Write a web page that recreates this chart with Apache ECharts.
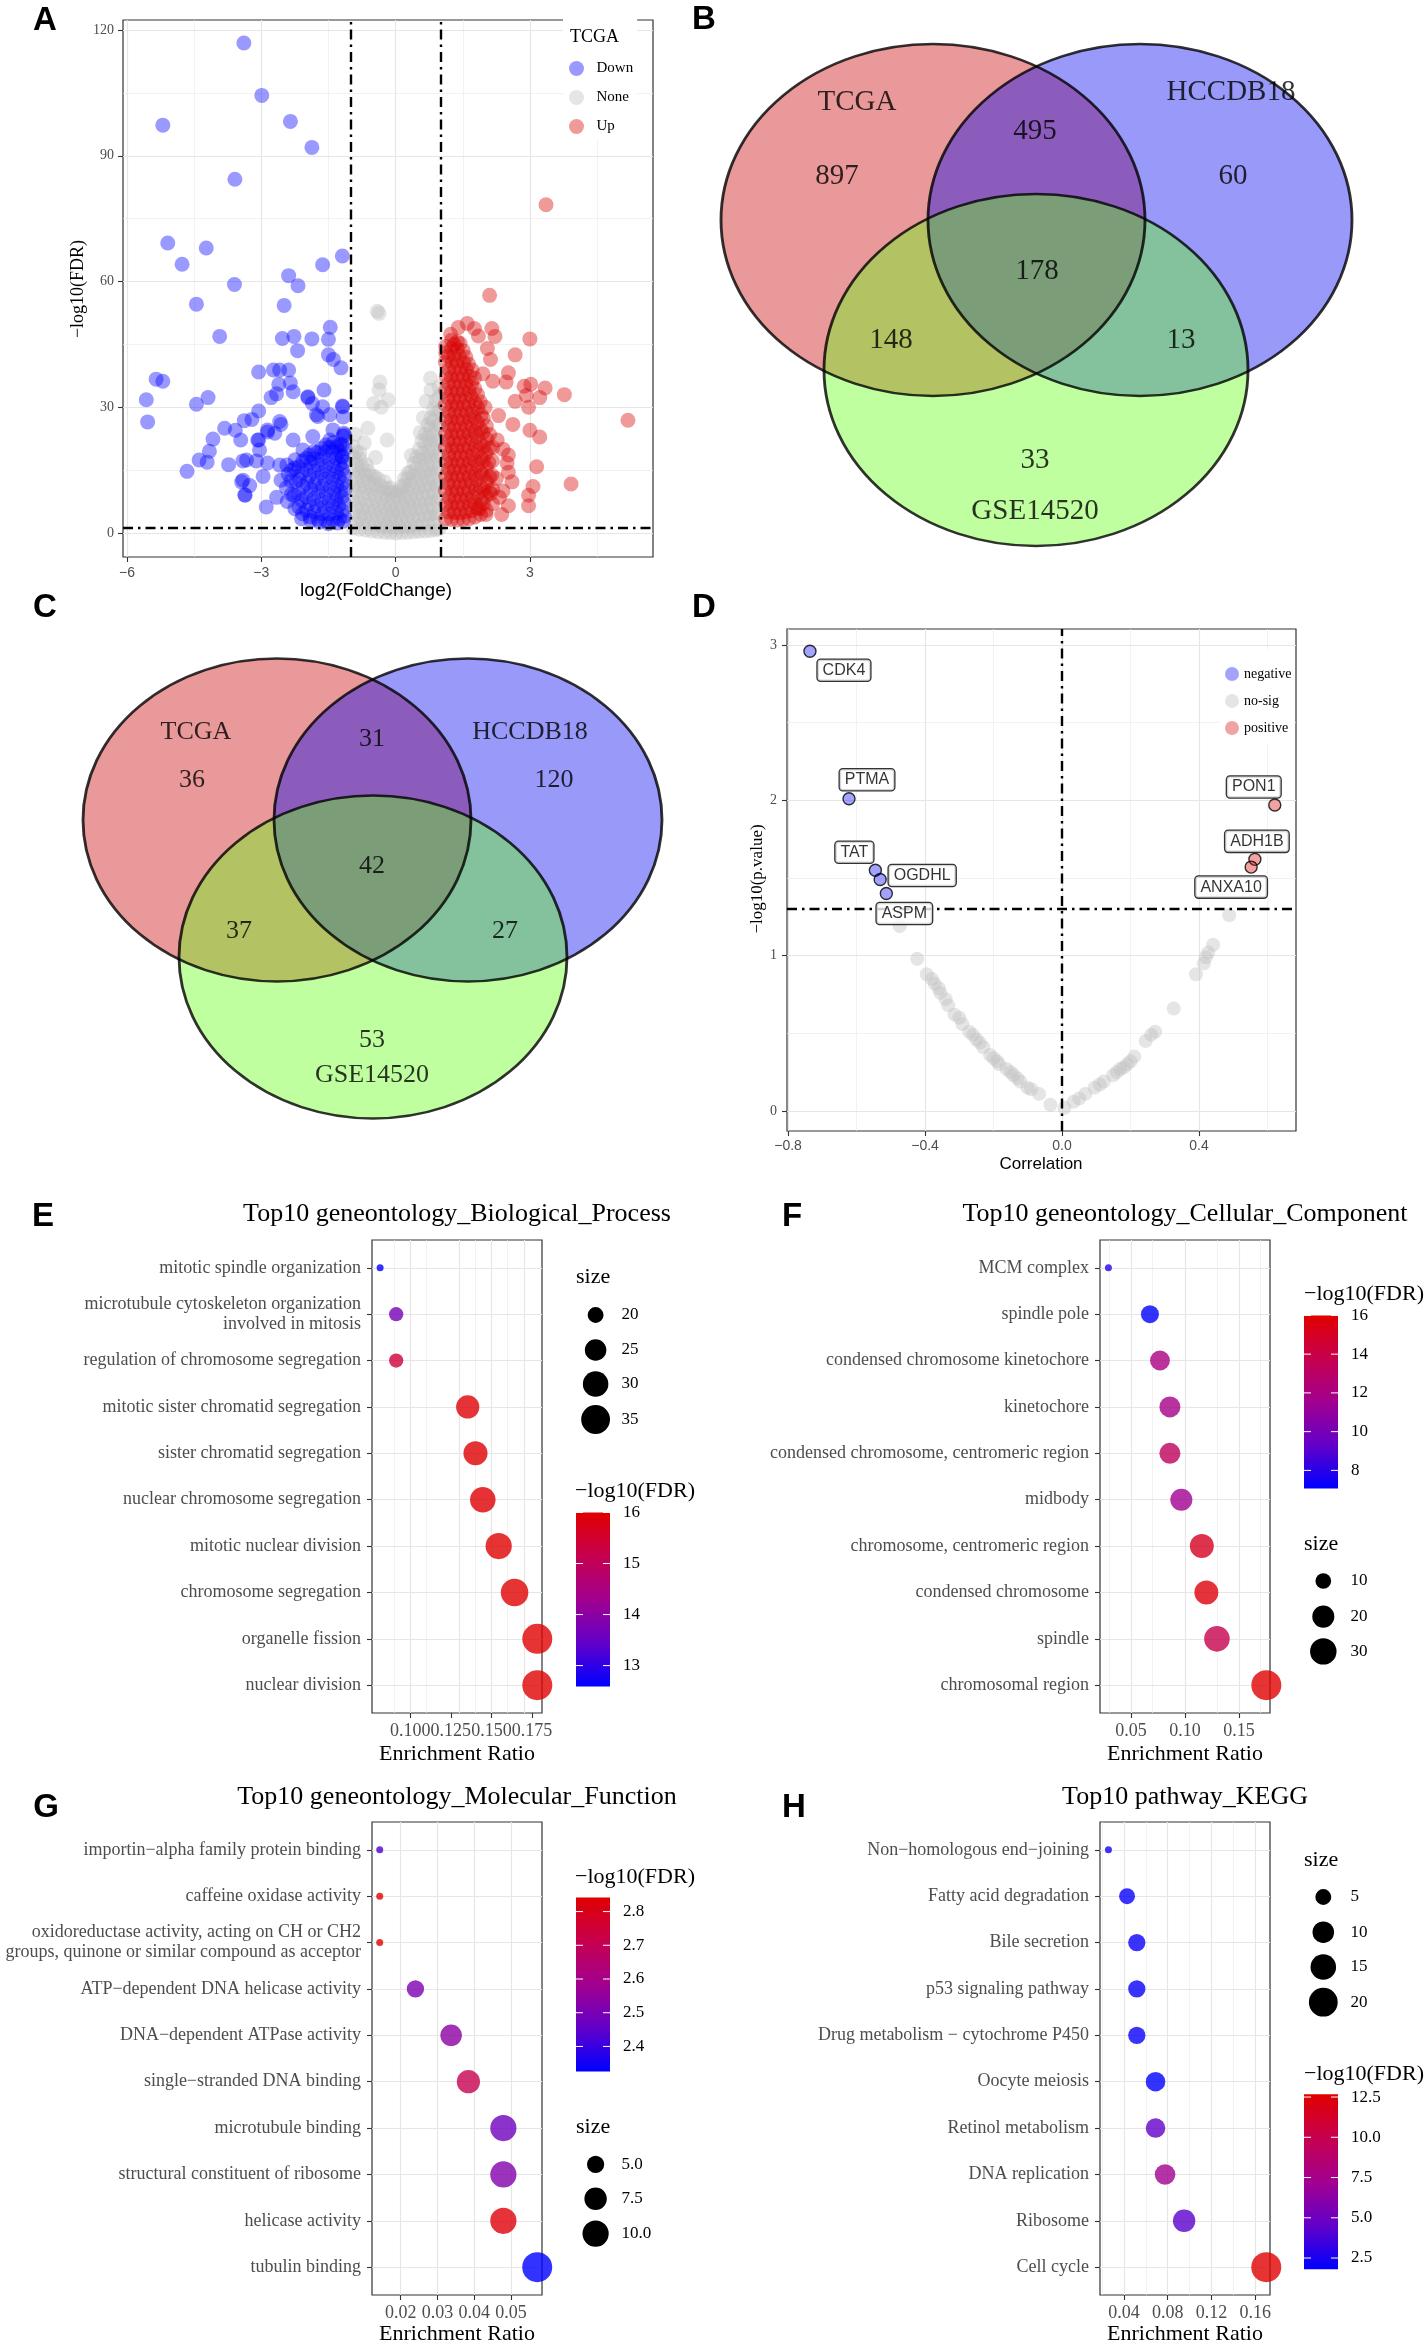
<!DOCTYPE html>
<html>
<head>
<meta charset="utf-8">
<script src="https://cdn.jsdelivr.net/npm/echarts@6/dist/echarts.min.js"></script>
<style>
html,body{margin:0;padding:0;background:#fff;}
#chart{width:1428px;height:2347px;}
</style>
</head>
<body>
<div id="chart"></div>
<script>
// ===================== DATA =====================
// Panel A: volcano (log2FC, -log10 FDR)
const volcanoDown = [
[-3.39,116.9],[-2.99,104.4],[-5.20,97.3],[-2.35,98.2],[-1.87,92.0],[-3.59,84.4],[-5.09,69.2],[-4.23,68.0],[-4.77,64.1],[-1.19,66.1],
[-1.63,64.0],[-2.39,61.4],[-3.60,59.3],[-2.18,59.0],[-4.45,54.6],[-2.49,54.3],[-3.93,46.9],[-2.53,46.4],[-2.27,46.9],[-1.87,46.3],
[-1.46,49.1],[-1.50,46.2],[-2.19,43.5],[-1.50,42.5],[-1.39,41.4],[-1.22,39.4],[-3.06,38.4],[-2.73,38.9],[-2.59,38.9],[-2.39,38.9],
[-5.35,36.7],[-5.20,36.2],[-5.57,31.8],[-5.54,26.5],[-4.45,30.7],[-4.19,32.3],[-2.61,35.5],[-2.35,35.8],[-2.29,33.7],[-2.66,33.2],
[-2.78,32.3],[-1.96,32.3],[-1.86,30.9],[-1.60,34.1],[-1.19,30.3],[-3.06,29.1],[-3.38,26.8],[-3.21,27.1],[-3.82,25.0],[-3.58,24.5],
[-2.56,25.9],[-1.77,28.2],[-1.47,28.2],[-1.17,27.7],[-4.08,22.4],[-3.46,22.2],[-3.06,22.2],[-2.86,24.1],[-4.16,19.5],[-4.39,17.4],
[-4.21,16.9],[-4.66,14.7],[-3.73,16.3],[-3.41,17.2],[-3.11,17.2],[-2.86,16.7],[-2.96,13.5],[-3.41,12.6],[-3.26,11.3],[-3.36,9.0],
[-2.89,6.2],[-2.66,8.5],[-2.56,12.6],[-1.17,23.1],[-1.14,23.4],[-1.19,18.1],[-1.96,32.5],[-1.63,30.1],[-1.18,30.1],[-1.74,27.8],
[-2.59,26.6],[-2.86,24.6],[-3.08,22.2],[-3.33,17.4],[-3.04,19.8],[-3.44,12.2],[-3.37,9.1],[-2.29,22.2],[-2.07,19.8],[-1.85,23.0],
[-1.40,24.6],[-1.16,23.8],[-2.70,23.8],[-2.59,16.2],
[-2.42,7.5],[-2.44,10.8],[-2.40,14.0],[-2.43,16.2],
[-2.25,5.8],[-2.27,9.0],[-2.23,12.3],[-2.26,15.5],[-2.24,17.5],
[-2.08,4.6],[-2.10,7.8],[-2.06,11.1],[-2.09,14.4],[-2.07,17.2],
[-1.91,3.8],[-1.93,7.0],[-1.89,10.3],[-1.92,13.6],[-1.90,16.8],[-1.92,18.6],
[-1.74,3.3],[-1.76,6.5],[-1.72,9.8],[-1.75,13.1],[-1.73,16.3],[-1.75,19.2],
[-1.57,3.0],[-1.59,6.2],[-1.55,9.5],[-1.58,12.8],[-1.56,16.0],[-1.58,19.3],[-1.56,21.0],
[-1.40,3.1],[-1.42,6.3],[-1.38,9.6],[-1.41,12.9],[-1.39,16.1],[-1.41,19.4],[-1.39,21.6],
[-1.25,3.4],[-1.27,6.6],[-1.23,9.9],[-1.26,13.2],[-1.24,16.4],[-1.26,19.6],[-1.24,21.2],
[-1.14,4.0],[-1.15,7.2],[-1.13,10.5],[-1.14,13.8],[-1.15,17.0],[-1.13,20.1],
[-2.33,9.2],[-2.34,12.4],[-2.32,15.0],
[-2.16,6.2],[-2.17,9.4],[-2.15,12.7],[-2.16,15.8],
[-1.99,5.4],[-2.00,8.6],[-1.98,11.9],[-1.99,15.2],[-2.00,17.8],
[-1.82,5.0],[-1.83,8.2],[-1.81,11.5],[-1.82,14.8],[-1.83,17.7],[-1.82,19.5],
[-1.65,4.6],[-1.66,7.8],[-1.64,11.1],[-1.65,14.4],[-1.66,17.6],[-1.65,20.2],
[-1.48,4.5],[-1.49,7.7],[-1.47,11.0],[-1.48,14.3],[-1.49,17.6],[-1.48,20.4],[-1.47,22.2],
[-1.32,4.8],[-1.33,8.0],[-1.31,11.3],[-1.32,14.6],[-1.33,17.9],[-1.32,20.6],
[-1.19,5.3],[-1.20,8.6],[-1.18,11.9],[-1.19,15.2],[-1.20,18.4],[-1.19,21.0],
[-1.50,2.2],[-1.30,2.4],[-1.70,2.6],[-1.90,3.0],[-1.17,2.8],[-2.10,3.4]
];
const volcanoNone = [
[-0.41,52.9],[-0.37,52.4],[-0.35,36.0],[-0.37,34.1],[-0.49,30.9],[-0.17,31.8],[-0.32,30.0],[-0.62,25.0],[-0.19,22.2],[0.78,36.9],
[0.79,34.1],[0.68,31.4],[-0.80,19.1],[-0.70,21.5],[-0.45,18.0],[-0.90,23.5],[0.20,13.0],[0.35,18.5],[0.55,24.0],[0.62,27.5],
[-0.95,1.2],[-0.93,4.5],[-0.96,7.9],[-0.94,11.3],[-0.95,14.7],[-0.93,18.0],[-0.95,20.6],
[-0.81,0.9],[-0.79,4.2],[-0.82,7.6],[-0.80,11.0],[-0.81,14.4],[-0.79,17.6],
[-0.67,0.7],[-0.68,4.0],[-0.66,7.3],[-0.68,10.7],[-0.67,13.9],[-0.66,16.3],
[-0.53,0.5],[-0.54,3.8],[-0.52,7.0],[-0.54,10.4],[-0.53,13.6],
[-0.39,0.3],[-0.40,3.5],[-0.38,6.8],[-0.40,10.1],[-0.39,12.9],
[-0.25,0.2],[-0.26,3.3],[-0.24,6.5],[-0.26,9.7],[-0.25,12.2],
[-0.12,0.1],[-0.13,3.1],[-0.11,6.2],[-0.12,9.4],[-0.12,10.8],
[0.01,0.0],[0.00,3.0],[0.02,6.0],[0.01,9.1],
[0.14,0.1],[0.13,3.2],[0.15,6.4],[0.14,9.6],[0.14,11.2],
[0.27,0.2],[0.26,3.4],[0.28,6.7],[0.27,9.9],[0.27,13.0],[0.28,14.3],
[0.40,0.3],[0.39,3.6],[0.41,7.0],[0.40,10.3],[0.40,13.6],[0.41,16.6],
[0.53,0.4],[0.52,3.8],[0.54,7.2],[0.53,10.6],[0.53,14.0],[0.54,17.4],[0.53,20.0],
[0.66,0.5],[0.65,4.0],[0.67,7.5],[0.66,10.9],[0.66,14.3],[0.67,17.7],[0.66,21.1],[0.66,23.6],
[0.78,0.6],[0.77,4.2],[0.79,7.7],[0.78,11.2],[0.78,14.6],[0.79,18.1],[0.78,21.5],[0.78,24.9],[0.79,27.4],
[0.90,0.8],[0.89,4.4],[0.91,7.9],[0.90,11.4],[0.90,14.9],[0.91,18.4],[0.90,21.9],[0.90,25.3],[0.91,28.8],[0.90,31.6],
[0.97,1.0],[0.96,4.7],[0.98,8.3],[0.97,11.8],[0.97,15.3],[0.98,18.8],[0.97,22.2],[0.97,25.7],[0.98,29.1],[0.97,32.5],[0.97,34.8],
[-0.88,2.8],[-0.87,6.2],[-0.89,9.6],[-0.88,13.0],[-0.87,16.3],[-0.88,19.3],
[-0.74,2.5],[-0.75,5.9],[-0.73,9.3],[-0.74,12.6],[-0.75,15.8],
[-0.60,2.2],[-0.61,5.6],[-0.59,9.0],[-0.60,12.2],[-0.61,14.8],
[-0.46,1.9],[-0.47,5.3],[-0.45,8.6],[-0.46,11.7],[-0.47,13.5],
[-0.32,1.7],[-0.33,5.0],[-0.31,8.2],[-0.32,11.2],
[-0.19,1.5],[-0.20,4.7],[-0.18,7.9],[-0.19,10.6],
[-0.06,1.4],[-0.07,4.5],[-0.05,7.6],[-0.06,9.8],
[0.07,1.4],[0.06,4.6],[0.08,7.8],[0.07,10.0],
[0.20,1.5],[0.19,4.8],[0.21,8.1],[0.20,11.3],
[0.33,1.7],[0.32,5.1],[0.34,8.4],[0.33,11.6],[0.34,14.6],
[0.46,1.9],[0.45,5.4],[0.47,8.8],[0.46,12.1],[0.46,15.3],[0.47,18.2],
[0.59,2.1],[0.58,5.6],[0.60,9.1],[0.59,12.5],[0.59,15.8],[0.60,19.0],[0.59,22.0],
[0.72,2.4],[0.71,5.9],[0.73,9.4],[0.72,12.8],[0.72,16.2],[0.73,19.5],[0.72,22.8],[0.72,25.8],
[0.84,2.6],[0.83,6.1],[0.85,9.6],[0.84,13.1],[0.84,16.5],[0.85,19.9],[0.84,23.3],[0.84,26.7],[0.85,29.6]
];
const volcanoUp = [
[3.36,78.3],[2.10,56.7],[1.60,50.0],[1.76,48.8],[2.15,48.8],[2.22,46.9],[3.00,46.3],[1.23,47.4],[2.67,42.5],[2.12,41.4],
[2.17,36.2],[2.52,38.2],[2.47,36.0],[2.87,35.0],[3.02,35.5],[3.34,34.6],[3.77,33.0],[2.92,32.8],[3.22,32.3],[2.67,31.4],
[2.97,30.0],[5.19,26.9],[3.00,24.5],[3.22,22.9],[2.62,25.9],[2.52,18.6],[2.27,22.2],[3.15,15.8],[2.49,16.7],[2.52,14.5],
[2.60,12.2],[3.92,11.7],[3.07,11.1],[2.97,9.0],[2.97,6.5],[2.52,6.5],[2.37,4.4],[2.02,4.4],[2.12,9.4],[2.32,8.5],
[1.87,5.8],[2.00,30.0],[2.30,28.0],[1.95,38.0],[2.05,44.0],[1.85,47.0],[1.40,49.0],[1.12,44.5],[2.40,20.0],[2.25,13.0],[2.40,10.0],
[1.12,3.4],[1.13,6.8],[1.11,10.2],[1.12,13.6],[1.13,17.0],[1.11,20.4],[1.12,23.8],[1.13,27.2],[1.11,30.6],[1.12,34.0],[1.13,37.4],[1.11,40.8],[1.12,43.0],
[1.25,3.2],[1.24,6.6],[1.26,10.0],[1.25,13.4],[1.24,16.8],[1.26,20.2],[1.25,23.6],[1.24,27.0],[1.26,30.4],[1.25,33.8],[1.24,37.2],[1.26,40.6],[1.25,44.0],[1.25,46.0],
[1.38,3.1],[1.39,6.5],[1.37,9.9],[1.38,13.3],[1.39,16.7],[1.37,20.1],[1.38,23.5],[1.39,26.9],[1.37,30.3],[1.38,33.7],[1.39,37.1],[1.37,40.5],[1.38,43.9],[1.38,45.6],
[1.51,3.2],[1.50,6.6],[1.52,10.0],[1.51,13.4],[1.50,16.8],[1.52,20.2],[1.51,23.6],[1.50,27.0],[1.52,30.4],[1.51,33.8],[1.50,37.2],[1.52,40.6],[1.51,43.5],
[1.64,3.4],[1.65,6.8],[1.63,10.2],[1.64,13.6],[1.65,17.0],[1.63,20.4],[1.64,23.8],[1.65,27.2],[1.63,30.6],[1.64,34.0],[1.65,37.4],[1.63,40.3],
[1.77,3.8],[1.76,7.2],[1.78,10.6],[1.77,14.0],[1.76,17.4],[1.78,20.8],[1.77,24.2],[1.76,27.6],[1.78,31.0],[1.77,34.4],[1.76,37.0],
[1.90,4.4],[1.91,7.8],[1.89,11.2],[1.90,14.6],[1.91,18.0],[1.89,21.4],[1.90,24.8],[1.91,28.2],[1.89,31.3],
[2.03,5.4],[2.02,8.8],[2.04,12.2],[2.03,15.6],[2.02,19.0],[2.04,22.4],[2.03,25.5],
[2.16,7.0],[2.17,10.4],[2.15,13.8],[2.16,17.2],[2.17,20.4],
[1.18,5.0],[1.19,8.4],[1.17,11.8],[1.18,15.2],[1.19,18.6],[1.17,22.0],[1.18,25.4],[1.19,28.8],[1.17,32.2],[1.18,35.6],[1.19,39.0],[1.18,42.2],
[1.31,4.9],[1.32,8.3],[1.30,11.7],[1.31,15.1],[1.32,18.5],[1.30,21.9],[1.31,25.3],[1.32,28.7],[1.30,32.1],[1.31,35.5],[1.32,38.9],[1.30,42.3],[1.31,45.0],
[1.44,4.8],[1.45,8.2],[1.43,11.6],[1.44,15.0],[1.45,18.4],[1.43,21.8],[1.44,25.2],[1.45,28.6],[1.43,32.0],[1.44,35.4],[1.45,38.8],[1.43,42.2],[1.44,45.2],
[1.57,5.0],[1.58,8.4],[1.56,11.8],[1.57,15.2],[1.58,18.6],[1.56,22.0],[1.57,25.4],[1.58,28.8],[1.56,32.2],[1.57,35.6],[1.58,39.0],[1.57,42.0],
[1.70,5.3],[1.71,8.7],[1.69,12.1],[1.70,15.5],[1.71,18.9],[1.69,22.3],[1.70,25.7],[1.71,29.1],[1.69,32.5],[1.70,35.8],[1.71,38.9],
[1.83,6.0],[1.84,9.4],[1.82,12.8],[1.83,16.2],[1.84,19.6],[1.82,23.0],[1.83,26.4],[1.84,29.8],[1.83,33.0],
[1.96,7.0],[1.97,10.4],[1.95,13.8],[1.96,17.2],[1.97,20.6],[1.95,24.0],[1.96,27.4],
[2.09,10.0],[2.10,13.4],[2.08,16.8],[2.09,20.2],[2.10,23.5]
];
const aXTicks = [-6, -3, 0, 3];
const aYTicks = [0, 30, 60, 90, 120];
const aXMinor = [-4.5, -1.5, 1.5, 4.5];
const aYMinor = [15, 45, 75, 105];
const aFcCut = [-1, 1];
const aFdrCut = [1.3];

// Panel B / C: Venn counts [TCGA only, HCCDB18 only, GSE14520 only, T&H, T&G, H&G, all]
const vennSets = ['TCGA', 'HCCDB18', 'GSE14520'];
const vennBCounts = [897, 60, 33, 495, 148, 13, 178];
const vennCCounts = [36, 120, 53, 31, 37, 27, 42];

// Panel D: correlation volcano
const negGenes = ['CDK4', 'PTMA', 'TAT', 'OGDHL', 'ASPM'];
const negCor = [-0.736, -0.622, -0.545, -0.531, -0.513];
const negLogP = [2.96, 2.01, 1.55, 1.49, 1.40];
const posGenes = ['PON1', 'ADH1B', 'ANXA10'];
const posCor = [0.621, 0.563, 0.552];
const posLogP = [1.97, 1.62, 1.57];
const noSigPoints = [
[-0.474,1.19],[-0.423,0.98],[-0.395,0.88],[-0.38,0.85],[-0.372,0.82],[-0.36,0.79],[-0.355,0.76],[-0.34,0.72],[-0.332,0.68],[-0.314,0.62],
[-0.30,0.60],[-0.291,0.56],[-0.271,0.51],[-0.26,0.49],[-0.250,0.46],[-0.24,0.44],[-0.230,0.41],[-0.210,0.36],[-0.20,0.34],[-0.19,0.32],
[-0.183,0.30],[-0.162,0.27],[-0.15,0.25],[-0.142,0.23],[-0.13,0.21],[-0.122,0.19],[-0.101,0.15],[-0.09,0.14],[-0.067,0.11],[-0.034,0.04],
[0.007,0.02],[0.034,0.06],[0.05,0.08],[0.068,0.11],[0.095,0.15],[0.11,0.17],[0.122,0.19],[0.149,0.23],[0.16,0.25],[0.170,0.27],
[0.18,0.28],[0.190,0.30],[0.20,0.32],[0.211,0.35],[0.244,0.45],[0.26,0.49],[0.272,0.51],[0.326,0.66],[0.391,0.88],[0.414,0.95],
[0.42,0.99],[0.427,1.02],[0.441,1.07],[0.488,1.26]
];
const dXTicks = [-0.8, -0.4, 0, 0.4];
const dYTicks = [0, 1, 2, 3];
const dXMinor = [-0.6, -0.2, 0.2, 0.6];
const dYMinor = [0.5, 1.5, 2.5];
const dCorCut = [0];
const dPCut = [1.3];

// Panels E-H: enrichment
const termIndex = [0, 1, 2, 3, 4, 5, 6, 7, 8, 9];
const bpTerms = ['mitotic spindle organization', 'microtubule cytoskeleton organization\ninvolved in mitosis', 'regulation of chromosome segregation', 'mitotic sister chromatid segregation', 'sister chromatid segregation', 'nuclear chromosome segregation', 'mitotic nuclear division', 'chromosome segregation', 'organelle fission', 'nuclear division'];
const bpRatio = [0.0814, 0.0913, 0.0913, 0.1354, 0.1402, 0.1447, 0.1545, 0.1643, 0.1783, 0.1783];
const bpSize = [17, 19, 19, 27, 28, 30, 31, 33, 37, 37];
const bpFDR = [12.59, 13.7, 15.4, 15.95, 15.97, 15.98, 15.99, 16.0, 16.0, 16.0];
const bpXTicks = [0.100, 0.125, 0.150, 0.175];
const bpXMinor = [0.0875, 0.1125, 0.1375, 0.1625];
const bpSizeBreaks = [20, 25, 30, 35];
const bpColorBreaks = [13, 14, 15, 16];

const ccTerms = ['MCM complex', 'spindle pole', 'condensed chromosome kinetochore', 'kinetochore', 'condensed chromosome, centromeric region', 'midbody', 'chromosome, centromeric region', 'condensed chromosome', 'spindle', 'chromosomal region'];
const ccRatio = [0.029, 0.0675, 0.0768, 0.086, 0.086, 0.0966, 0.1156, 0.1198, 0.1296, 0.1754];
const ccSize = [5, 13, 16, 18, 18, 20, 24, 24, 28, 40];
const ccFDR = [8.0, 7.07, 12.0, 11.8, 13.3, 11.5, 15.1, 15.7, 13.8, 16.0];
const ccXTicks = [0.05, 0.10, 0.15];
const ccXMinor = [0.025, 0.075, 0.125, 0.175];
const ccSizeBreaks = [10, 20, 30];
const ccColorBreaks = [8, 10, 12, 14, 16];

const mfTerms = ['importin\u2212alpha family protein binding', 'caffeine oxidase activity', 'oxidoreductase activity, acting on CH or CH2\ngroups, quinone or similar compound as acceptor', 'ATP\u2212dependent DNA helicase activity', 'DNA\u2212dependent ATPase activity', 'single\u2212stranded DNA binding', 'microtubule binding', 'structural constituent of ribosome', 'helicase activity', 'tubulin binding'];
const mfRatio = [0.0143, 0.0143, 0.0143, 0.024, 0.0337, 0.0384, 0.0479, 0.0479, 0.0479, 0.0571];
const mfSize = [3, 3, 3, 5, 7, 8, 10, 10, 10, 13];
const mfFDR = [2.43, 2.842, 2.842, 2.51, 2.54, 2.71, 2.48, 2.52, 2.83, 2.326];
const mfXTicks = [0.02, 0.03, 0.04, 0.05];
const mfXMinor = [0.015, 0.025, 0.035, 0.045, 0.055];
const mfSizeBreaks = [5.0, 7.5, 10.0];
const mfColorBreaks = [2.4, 2.5, 2.6, 2.7, 2.8];

const keggTerms = ['Non\u2212homologous end\u2212joining', 'Fatty acid degradation', 'Bile secretion', 'p53 signaling pathway', 'Drug metabolism \u2212 cytochrome P450', 'Oocyte meiosis', 'Retinol metabolism', 'DNA replication', 'Ribosome', 'Cell cycle'];
const keggRatio = [0.0259, 0.0429, 0.0518, 0.0518, 0.0518, 0.0689, 0.0689, 0.0776, 0.095, 0.170];
const keggSize = [2, 5, 6, 6, 6, 8, 8, 9, 11, 22];
const keggFDR = [2.3, 2.0, 2.0, 2.05, 2.0, 1.8, 4.5, 7.2, 4.3, 12.67];
const keggXTicks = [0.04, 0.08, 0.12, 0.16];
const keggXMinor = [0.02, 0.06, 0.10, 0.14];
const keggSizeBreaks = [5, 10, 15, 20];
const keggColorBreaks = [2.5, 5.0, 7.5, 10.0, 12.5];

// ===================== STYLE / LAYOUT =====================
const SERIF = '"Liberation Serif","Times New Roman",Times,serif';
const SANS = '"Liberation Sans",Arial,Helvetica,sans-serif';
const GRAD = ['#0000ff', '#6200c9', '#a2008f', '#c7004e', '#e00000'];
const ELLIPSE = 'path://M0,50A50,50,0,1,1,100,50A50,50,0,1,1,0,50Z';
const VENN_FILL = ['rgba(201,1,1,0.5)', 'rgba(1,1,241,0.5)', 'rgba(97,255,17,0.5)'];
const VENN_LAYOUT = {
  B: {centers: [[933, 220], [1140, 220], [1036, 370]], size: [424, 352], font: 29,
      setPos: [[857, 102], [1231, 92], [1035, 511]],
      countPos: [[837, 176], [1233, 176], [1035, 460], [1035, 131], [891, 340], [1181, 340], [1037, 271]]},
  C: {centers: [[277, 820], [468, 820], [373, 957]], size: [388, 323], font: 26,
      setPos: [[196, 732], [530, 732], [372, 1075]],
      countPos: [[192, 780], [554, 780], [372, 1040], [372, 739], [239, 931], [505, 931], [372, 866]]}
};
const D_LABEL_OFFSET = {CDK4: [34, 19], PTMA: [18, -19], TAT: [-21, -18], OGDHL: [42, -4], ASPM: [18, 20], PON1: [-21, -18], ADH1B: [2, -18], ANXA10: [-20, 20]};

function minusFmt(d) { return v => (v < 0 ? '\u2212' : '') + Math.abs(v).toFixed(d); }
function rangeOf(a) { return [Math.min.apply(null, a), Math.max.apply(null, a)]; }
function sizeScale(lo, hi) { return s => 7 + 23 * Math.sqrt(Math.max(0, Math.min(1, (s - lo) / (hi - lo)))); }

const gridDefs = [
  {left: 0, top: 0, width: 1428, height: 2347, show: false},
  {left: 123, top: 20, width: 530, height: 537},
  {left: 787, top: 629, width: 509, height: 502},
  {left: 372, top: 1240, width: 170, height: 473},
  {left: 1100, top: 1240, width: 170, height: 473},
  {left: 372, top: 1822, width: 170, height: 473},
  {left: 1100, top: 1822, width: 170, height: 473}
];
const grids = gridDefs.map((g, i) => i === 0 ? g : Object.assign({show: true, borderColor: '#333333', borderWidth: 1.2, backgroundColor: '#ffffff'}, g));

function vAxis(o) {
  return {
    type: 'value', gridIndex: o.g, min: o.min, max: o.max, inverse: !!o.inv,
    axisLine: {show: false, onZero: false},
    axisTick: {show: true, length: 5, customValues: o.ticks, lineStyle: {color: '#333333', width: 1.1}},
    axisLabel: {show: true, customValues: o.ticks, formatter: o.fmt, margin: o.margin, fontFamily: o.font, fontSize: o.size, color: '#4d4d4d', lineHeight: o.lh || o.size * 1.15},
    splitLine: {show: false}, minorTick: {show: false}, minorSplitLine: {show: false}
  };
}
const termFmt = terms => (v => terms[Math.round(v)]);

const xAxes = [
  {type: 'value', gridIndex: 0, min: 0, max: 1428, show: false, axisLine: {onZero: false}},
  vAxis({g: 1, min: -6.09, max: 5.75, ticks: aXTicks, fmt: minusFmt(0), margin: 8, font: SANS, size: 14}),
  vAxis({g: 2, min: -0.803, max: 0.683, ticks: dXTicks, fmt: minusFmt(1), margin: 7, font: SANS, size: 14}),
  vAxis({g: 3, min: 0.0764, max: 0.1812, ticks: bpXTicks, fmt: v => v.toFixed(3), margin: 8, font: SERIF, size: 18}),
  vAxis({g: 4, min: 0.0212, max: 0.1788, ticks: ccXTicks, fmt: v => v.toFixed(2), margin: 8, font: SERIF, size: 18}),
  vAxis({g: 5, min: 0.0122, max: 0.0584, ticks: mfXTicks, fmt: v => v.toFixed(2), margin: 8, font: SERIF, size: 18}),
  vAxis({g: 6, min: 0.0182, max: 0.1734, ticks: keggXTicks, fmt: v => v.toFixed(2), margin: 8, font: SERIF, size: 18})
];
const yAxes = [
  {type: 'value', gridIndex: 0, min: 0, max: 2347, inverse: true, show: false, axisLine: {onZero: false}},
  vAxis({g: 1, min: -5.73, max: 122.39, ticks: aYTicks, fmt: v => String(v), margin: 9, font: SERIF, size: 14}),
  vAxis({g: 2, min: -0.129, max: 3.103, ticks: dYTicks, fmt: v => String(v), margin: 10, font: SERIF, size: 14}),
  vAxis({g: 3, min: -0.6, max: 9.6, inv: true, ticks: termIndex, fmt: termFmt(bpTerms), margin: 11, font: SERIF, size: 18, lh: 20}),
  vAxis({g: 4, min: -0.6, max: 9.6, inv: true, ticks: termIndex, fmt: termFmt(ccTerms), margin: 11, font: SERIF, size: 18, lh: 20}),
  vAxis({g: 5, min: -0.6, max: 9.6, inv: true, ticks: termIndex, fmt: termFmt(mfTerms), margin: 11, font: SERIF, size: 18, lh: 20}),
  vAxis({g: 6, min: -0.6, max: 9.6, inv: true, ticks: termIndex, fmt: termFmt(keggTerms), margin: 11, font: SERIF, size: 18, lh: 20})
];

function guideSeries(i, xMaj, xMin, yMaj, yMin) {
  const maj = {color: '#e6e6e6', width: 1.2, type: 'solid'};
  const mnr = {color: '#ececec', width: 0.7, type: 'solid'};
  const d = [];
  xMin.forEach(v => d.push({xAxis: v, lineStyle: mnr}));
  yMin.forEach(v => d.push({yAxis: v, lineStyle: mnr}));
  xMaj.forEach(v => d.push({xAxis: v, lineStyle: maj}));
  yMaj.forEach(v => d.push({yAxis: v, lineStyle: maj}));
  return {type: 'scatter', xAxisIndex: i, yAxisIndex: i, data: [], silent: true, z: 1,
    markLine: {z: 1, silent: true, symbol: ['none', 'none'], label: {show: false}, lineStyle: {type: 'solid'}, emphasis: {disabled: true}, animation: false, data: d}};
}
function refSeries(i, xs, ys) {
  const d = xs.map(v => ({xAxis: v})).concat(ys.map(v => ({yAxis: v})));
  return {type: 'scatter', xAxisIndex: i, yAxisIndex: i, data: [], silent: true, z: 5,
    markLine: {z: 5, silent: true, symbol: ['none', 'none'], label: {show: false}, emphasis: {disabled: true}, animation: false,
      lineStyle: {color: '#000', width: 2.4, type: [10, 5, 2.5, 5]}, data: d}};
}

const series = [];
function add(s) { series.push(s); return series.length - 1; }

add(guideSeries(1, aXTicks, aXMinor, aYTicks, aYMinor));
add(guideSeries(2, dXTicks, dXMinor, dYTicks, dYMinor));
add(guideSeries(3, bpXTicks, bpXMinor, termIndex, []));
add(guideSeries(4, ccXTicks, ccXMinor, termIndex, []));
add(guideSeries(5, mfXTicks, mfXMinor, termIndex, []));
add(guideSeries(6, keggXTicks, keggXMinor, termIndex, []));

// A volcano
add({name: 'None', type: 'scatter', xAxisIndex: 1, yAxisIndex: 1, data: volcanoNone, symbolSize: 15, clip: true, silent: true, z: 2, itemStyle: {color: 'rgba(190,190,190,0.5)'}});
add({name: 'Down', type: 'scatter', xAxisIndex: 1, yAxisIndex: 1, data: volcanoDown, symbolSize: 15, clip: true, silent: true, z: 2, itemStyle: {color: 'rgba(0,0,255,0.5)'}});
add({name: 'Up', type: 'scatter', xAxisIndex: 1, yAxisIndex: 1, data: volcanoUp, symbolSize: 15, clip: true, silent: true, z: 2, itemStyle: {color: 'rgba(215,0,0,0.5)'}});
add(refSeries(1, aFcCut, aFdrCut));

// D correlation
add({name: 'no-sig', type: 'scatter', xAxisIndex: 2, yAxisIndex: 2, data: noSigPoints, symbolSize: 14, clip: true, silent: true, z: 2, itemStyle: {color: 'rgba(190,190,190,0.5)'}});
function labeledSeries(name, genes, cors, ps, fill) {
  return {name: name, type: 'scatter', xAxisIndex: 2, yAxisIndex: 2, z: 6, silent: true, symbolSize: 12,
    itemStyle: {color: fill, borderColor: '#000', borderWidth: 1.4},
    label: {show: true, position: 'inside', formatter: '{b}', fontFamily: SANS, fontSize: 16, color: '#000', backgroundColor: '#fff', borderColor: '#000', borderWidth: 1.3, borderRadius: 3, padding: [3, 5, 2, 5]},
    data: genes.map((g, i) => ({name: g, value: [cors[i], ps[i]], label: {offset: D_LABEL_OFFSET[g]}}))};
}
add(labeledSeries('negative', negGenes, negCor, negLogP, 'rgba(0,0,255,0.45)'));
add(labeledSeries('positive', posGenes, posCor, posLogP, 'rgba(215,0,0,0.45)'));
add(refSeries(2, dCorCut, dPCut));

// E-H dot plots
const PANELS = [
  {key: 'E', ax: 3, ratio: bpRatio, size: bpSize, fdr: bpFDR, sizeBreaks: bpSizeBreaks, colorBreaks: bpColorBreaks, sFmt: v => String(v), cFmt: v => String(v),
   cb: {titleX: 575, titleY: 1491, x: 576, y: 1512.5, w: 34, h: 174}, sl: {titleX: 576, titleY: 1277, cx: 595.6, tx: 621.6, ys: [1315, 1350, 1384, 1419.5]}},
  {key: 'F', ax: 4, ratio: ccRatio, size: ccSize, fdr: ccFDR, sizeBreaks: ccSizeBreaks, colorBreaks: ccColorBreaks, sFmt: v => String(v), cFmt: v => String(v),
   cb: {titleX: 1304, titleY: 1294, x: 1304, y: 1315.4, w: 34, h: 173}, sl: {titleX: 1304, titleY: 1544, cx: 1323.3, tx: 1350.6, ys: [1581, 1616.6, 1651.4]}},
  {key: 'G', ax: 5, ratio: mfRatio, size: mfSize, fdr: mfFDR, sizeBreaks: mfSizeBreaks, colorBreaks: mfColorBreaks, sFmt: v => v.toFixed(1), cFmt: v => v.toFixed(1),
   cb: {titleX: 575, titleY: 1877, x: 576, y: 1897.4, w: 34, h: 174}, sl: {titleX: 576, titleY: 2127, cx: 595.6, tx: 621.6, ys: [2164.3, 2198.8, 2233.6]}},
  {key: 'H', ax: 6, ratio: keggRatio, size: keggSize, fdr: keggFDR, sizeBreaks: keggSizeBreaks, colorBreaks: keggColorBreaks, sFmt: v => String(v), cFmt: v => v.toFixed(1),
   cb: {titleX: 1304, titleY: 2074.5, x: 1304, y: 2094.3, w: 34, h: 175}, sl: {titleX: 1304, titleY: 1860, cx: 1323.3, tx: 1350.6, ys: [1897, 1932.2, 1967, 2002.2]}}
];
const visualMaps = [];
PANELS.forEach(p => {
  const sr = rangeOf(p.size);
  p.sizeFn = sizeScale(sr[0], sr[1]);
  p.fdrRange = rangeOf(p.fdr);
  const idx = add({type: 'scatter', xAxisIndex: p.ax, yAxisIndex: p.ax, clip: true, silent: true, z: 3,
    data: p.ratio.map((r, i) => [r, termIndex[i], p.size[i], p.fdr[i]]),
    symbolSize: v => p.sizeFn(v[2])});
  visualMaps.push({show: false, type: 'continuous', seriesIndex: idx, dimension: 3, min: p.fdrRange[0], max: p.fdrRange[1], inRange: {color: GRAD}});
});

// Venn diagrams on overlay grid
function vennSeries(key, counts) {
  const L = VENN_LAYOUT[key];
  add({type: 'scatter', xAxisIndex: 0, yAxisIndex: 0, silent: true, z: 2, symbol: ELLIPSE, symbolSize: L.size,
    data: L.centers.map((c, i) => ({value: c, itemStyle: {color: VENN_FILL[i]}}))});
  add({type: 'scatter', xAxisIndex: 0, yAxisIndex: 0, silent: true, z: 3, symbol: ELLIPSE, symbolSize: L.size,
    itemStyle: {color: 'rgba(0,0,0,0)', borderColor: '#000', borderWidth: 2.6}, data: L.centers});
  add({type: 'scatter', xAxisIndex: 0, yAxisIndex: 0, silent: true, z: 4, symbolSize: 1, itemStyle: {color: 'rgba(0,0,0,0)'},
    label: {show: true, position: 'inside', formatter: '{b}', fontFamily: SERIF, fontSize: L.font, color: '#000'},
    data: vennSets.map((s, i) => ({name: s, value: L.setPos[i]})).concat(counts.map((c, i) => ({name: String(c), value: L.countPos[i]})))});
}
vennSeries('B', vennBCounts);
vennSeries('C', vennCCounts);

// ===================== GRAPHICS (titles, legends) =====================
const G = [];
function txt(t, x, y, o) {
  o = o || {};
  G.push({type: 'text', x: x, y: y, rotation: o.rot || 0, z: 100, silent: true,
    style: {text: t, fontFamily: o.font || SERIF, fontSize: o.size || 18, fontWeight: o.weight || 'normal', fill: o.color || '#000',
      align: o.align || 'center', verticalAlign: 'middle', textAlign: o.align || 'center', textVerticalAlign: 'middle'}});
}
[['A', 45, 21], ['B', 704, 20], ['C', 45, 608], ['D', 704, 608], ['E', 43, 1217], ['F', 792, 1217], ['G', 46, 1808], ['H', 794, 1808]]
  .forEach(a => txt(a[0], a[1], a[2], {font: SANS, size: 33, weight: 'bold'}));
txt('Top10 geneontology_Biological_Process', 457, 1214, {size: 26});
txt('Top10 geneontology_Cellular_Component', 1185, 1214, {size: 26});
txt('Top10 geneontology_Molecular_Function', 457, 1797, {size: 26});
txt('Top10 pathway_KEGG', 1185, 1797, {size: 26});
txt('log2(FoldChange)', 376, 591, {font: SANS, size: 19});
txt('\u2212log10(FDR)', 78, 289, {size: 18, rot: Math.PI / 2});
txt('Correlation', 1041, 1164, {font: SANS, size: 17});
txt('\u2212log10(p.value)', 758, 879, {size: 17, rot: Math.PI / 2});
txt('Enrichment Ratio', 457, 1754, {size: 22});
txt('Enrichment Ratio', 1185, 1754, {size: 22});
txt('Enrichment Ratio', 457, 2334, {size: 22});
txt('Enrichment Ratio', 1185, 2334, {size: 22});
txt('TCGA', 570, 37, {size: 18, align: 'left'});

PANELS.forEach(p => {
  const cb = p.cb, r = p.fdrRange;
  txt('\u2212log10(FDR)', cb.titleX, cb.titleY, {size: 22, align: 'left'});
  G.push({type: 'rect', z: 100, silent: true, shape: {x: cb.x, y: cb.y, width: cb.w, height: cb.h},
    style: {fill: new echarts.graphic.LinearGradient(0, 1, 0, 0, GRAD.map((c, i) => ({offset: i / (GRAD.length - 1), color: c})))}});
  p.colorBreaks.forEach(v => {
    const ty = cb.y + cb.h - (v - r[0]) / (r[1] - r[0]) * cb.h;
    G.push({type: 'line', z: 101, silent: true, shape: {x1: cb.x, y1: ty, x2: cb.x + 7, y2: ty}, style: {stroke: '#fff', lineWidth: 1}});
    G.push({type: 'line', z: 101, silent: true, shape: {x1: cb.x + cb.w - 7, y1: ty, x2: cb.x + cb.w, y2: ty}, style: {stroke: '#fff', lineWidth: 1}});
    txt(p.cFmt(v), cb.x + cb.w + 13, ty, {size: 17, align: 'left'});
  });
  const sl = p.sl;
  txt('size', sl.titleX, sl.titleY, {size: 22, align: 'left'});
  p.sizeBreaks.forEach((v, i) => {
    G.push({type: 'circle', z: 100, silent: true, shape: {cx: sl.cx, cy: sl.ys[i], r: p.sizeFn(v) / 2}, style: {fill: '#000'}});
    txt(p.sFmt(v), sl.tx, sl.ys[i], {size: 17, align: 'left'});
  });
});

// ===================== CHART =====================
const chart = echarts.init(document.getElementById('chart'), null, {renderer: 'canvas', width: 1428, height: 2347});
chart.setOption({
  animation: false,
  backgroundColor: '#ffffff',
  grid: grids,
  xAxis: xAxes,
  yAxis: yAxes,
  visualMap: visualMaps,
  legend: [
    {data: ['Down', 'None', 'Up'], orient: 'vertical', left: 563, top: 19, padding: [42, 4, 6, 6], itemWidth: 30, itemHeight: 15, itemGap: 14,
     icon: 'circle', backgroundColor: '#ffffff', selectedMode: false, textStyle: {fontFamily: SERIF, fontSize: 15, color: '#000'}},
    {data: ['negative', 'no-sig', 'positive'], orient: 'vertical', left: 1219, top: 650, padding: [17, 2, 10, 6], itemWidth: 14, itemHeight: 14, itemGap: 13,
     icon: 'circle', backgroundColor: '#ffffff', selectedMode: false, itemStyle: {borderWidth: 0}, textStyle: {fontFamily: SERIF, fontSize: 14, color: '#000'}}
  ],
  series: series,
  graphic: {elements: G}
});
</script>
</body>
</html>
